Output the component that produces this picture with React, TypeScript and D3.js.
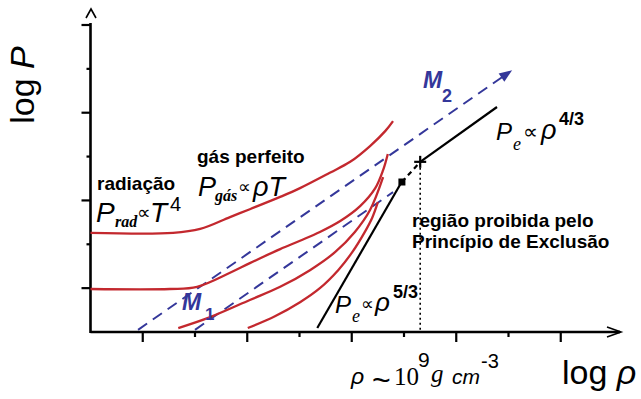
import React from 'react';
import * as d3 from 'd3';

// ---- axes (log units) ----
const xTicks = [1, 2, 3, 4, 5, 6, 7, 8, 9];
const xMajorTicks = [1, 3, 5, 7, 9];
const yTicks = [1, 2, 3, 4, 5, 6, 7];
const yMajorTicks = [1, 3, 5, 7];

// ---- red curves (log rho, log P) ----
const curve1X = [0, 1.58, 2.10, 2.67, 3.05, 3.63, 4.01, 4.58, 4.97, 5.35, 5.64, 5.79];
const curve1Y = [2.26, 2.26, 2.35, 2.62, 2.80, 3.08, 3.28, 3.63, 3.88, 4.24, 4.58, 4.81];
const curve2X = [0, 1.52, 2.04, 2.67, 3.05, 3.63, 4.01, 4.39, 4.78, 5.16, 5.45, 5.60, 5.69];
const curve2Y = [0.98, 0.98, 1.03, 1.35, 1.57, 1.89, 2.08, 2.28, 2.53, 2.87, 3.28, 3.69, 4.06];
const curve3X = [1.68, 2.29, 3.05, 3.63, 4.20, 4.68, 5.06, 5.35, 5.60];
const curve3Y = [0.09, 0.34, 0.73, 1.03, 1.41, 1.82, 2.28, 2.78, 3.53];
const curve4X = [3.01, 3.53, 4.01, 4.39, 4.74, 5.01, 5.24, 5.39, 5.50];
const curve4Y = [0.09, 0.36, 0.68, 1.00, 1.41, 1.82, 2.26, 2.60, 2.96];

// ---- blue dashed mass lines ----
const m2X = [0.91, 8.07];
const m2Y = [0.05, 5.97];
const m1X = [2.0, 5.79];
const m1Y = [0.05, 3.19];

// ---- degenerate electron pressure ----
const nonRelX = [4.34, 5.93];
const nonRelY = [0.09, 3.37];
const squarePt = [5.96, 3.42];
const plusPt = [6.31, 3.88];
const relX = [6.31, 7.78];
const relY = [3.88, 5.13];

const W = 641;
const H = 399;
const RED = '#c3282e';
const BLUE = '#34379a';
const SANS = '"Liberation Sans", Arial, "DejaVu Sans", sans-serif';
const SERIF = '"Liberation Serif", "Times New Roman", "DejaVu Serif", serif';
const SYM = '"DejaVu Sans", "Liberation Sans", sans-serif';

export default function App() {
  const x = d3.scaleLinear().domain([0, 10]).range([90.5, 613]);
  const y = d3.scaleLinear().domain([0, 7]).range([332, 25]);
  const line = d3
    .line<[number, number]>()
    .x((d) => x(d[0]))
    .y((d) => y(d[1]))
    .curve(d3.curveCatmullRom.alpha(0.5));
  const straight = d3
    .line<[number, number]>()
    .x((d) => x(d[0]))
    .y((d) => y(d[1]));
  const zip = (xs: number[], ys: number[]) => xs.map((v, i) => [v, ys[i]] as [number, number]);

  const curves = [
    zip(curve1X, curve1Y),
    zip(curve2X, curve2Y),
    zip(curve3X, curve3Y),
    zip(curve4X, curve4Y),
  ];

  // arrow head for M2
  const ax0 = x(m2X[0]), ay0 = y(m2Y[0]), ax1 = x(m2X[1]), ay1 = y(m2Y[1]);
  const ang = Math.atan2(ay1 - ay0, ax1 - ax0);
  const hl = 13, hw = 5;
  const bx = ax1 - hl * Math.cos(ang), by = ay1 - hl * Math.sin(ang);
  const head = `M${ax1},${ay1} L${bx - hw * Math.sin(ang)},${by + hw * Math.cos(ang)} L${bx + hw * Math.sin(ang)},${by - hw * Math.cos(ang)} Z`;
  const m2Line: [number, number][] = [
    [m2X[0], m2Y[0]],
    [x.invert(bx + 2 * Math.cos(ang)), y.invert(by + 2 * Math.sin(ang))],
  ];

  const x0 = x(0), yb = y(0);
  const sqx = x(squarePt[0]), sqy = y(squarePt[1]);
  const plx = x(plusPt[0]), ply = y(plusPt[1]);

  return (
    <svg
      width={W}
      height={H}
      viewBox={`0 0 ${W} ${H}`}
      style={{ position: 'absolute', left: 0, top: 0, background: '#fff' }}
    >
      <rect x={0} y={0} width={W} height={H} fill="#fff" />

      {/* axes */}
      <line x1={x0} y1={yb} x2={620} y2={yb} stroke="#000" strokeWidth={2.6} />
      <line x1={x0} y1={yb + 1} x2={x0} y2={23} stroke="#000" strokeWidth={2.6} />
      <path d={`M607,327 L621,332 L607,337`} fill="none" stroke="#000" strokeWidth={1.6} />
      <path d={`M86,18 L91,9 L96,18`} fill="none" stroke="#000" strokeWidth={1.6} />
      {xTicks.map((t) => (
        <line
          key={'xt' + t}
          x1={x(t)}
          x2={x(t)}
          y1={yb}
          y2={yb + (xMajorTicks.includes(t) ? 10 : 5)}
          stroke="#000"
          strokeWidth={2.2}
        />
      ))}
      {yTicks.map((t) => (
        <line
          key={'yt' + t}
          x1={x0}
          x2={x0 - (yMajorTicks.includes(t) ? 9 : 4)}
          y1={y(t)}
          y2={y(t)}
          stroke="#000"
          strokeWidth={2.2}
        />
      ))}

      {/* dotted vertical */}
      <line x1={plx} x2={plx} y1={ply + 6} y2={yb - 2} stroke="#000" strokeWidth={1.6} strokeDasharray="2 3" />

      {/* blue dashed lines */}
      <path d={straight(m2Line) || ''} fill="none" stroke={BLUE} strokeWidth={2} strokeDasharray="11 7" />
      <path d={head} fill={BLUE} />
      <path d={straight(zip(m1X, m1Y)) || ''} fill="none" stroke={BLUE} strokeWidth={2} strokeDasharray="11 7" />

      {/* red curves */}
      {curves.map((c, i) => (
        <path key={'c' + i} d={line(c) || ''} fill="none" stroke={RED} strokeWidth={2.3} />
      ))}

      {/* black degenerate lines */}
      <path d={straight(zip(nonRelX, nonRelY)) || ''} fill="none" stroke="#000" strokeWidth={2.2} />
      <path
        d={straight([squarePt as [number, number], plusPt as [number, number]]) || ''}
        fill="none"
        stroke="#000"
        strokeWidth={2.2}
        strokeDasharray="5 4"
      />
      <path d={straight(zip(relX, relY)) || ''} fill="none" stroke="#000" strokeWidth={2.2} />
      <rect x={sqx - 3.5} y={sqy - 3.5} width={7} height={7} fill="#000" />
      <line x1={plx - 6} x2={plx + 6} y1={ply} y2={ply} stroke="#000" strokeWidth={2.2} />
      <line x1={plx} x2={plx} y1={ply - 6} y2={ply + 6} stroke="#000" strokeWidth={2.2} />

      {/* axis titles */}
      <text
        transform="translate(34,85) rotate(-90)"
        textAnchor="middle"
        fontFamily={SANS}
        fontSize={34}
        fill="#000"
      >
        log <tspan fontStyle="italic">P</tspan>
      </text>
      <text x={562} y={384} fontFamily={SANS} fontSize={34} fill="#000">
        log <tspan fontStyle="italic">ρ</tspan>
      </text>

      {/* rho ~ 10^9 g cm^-3 */}
      <text fill="#000" fontFamily={SANS}>
        <tspan x={351} y={384} fontStyle="italic" fontSize={23}>ρ</tspan>
        <tspan x={372} y={391} fontSize={32}>~</tspan>
        <tspan x={394} y={385} fontFamily={SERIF} fontSize={25}>10</tspan>
        <tspan x={418} y={367} fontSize={21}>9</tspan>
        <tspan x={431} y={382} fontFamily={SERIF} fontStyle="italic" fontSize={25}>g</tspan>
        <tspan x={452} y={384} fontStyle="italic" fontSize={21}>cm</tspan>
        <tspan x={481} y={368} fontSize={20}>-3</tspan>
      </text>

      {/* radiation label */}
      <text x={97} y={190} fill="#000" fontFamily={SANS} fontWeight="bold" fontSize={19}>radiação</text>
      <text fill="#000" fontFamily={SANS}>
        <tspan x={96} y={222} fontStyle="italic" fontSize={28}>P</tspan>
        <tspan x={115} y={227} fontFamily={SERIF} fontStyle="italic" fontWeight="bold" fontSize={16}>rad</tspan>
        <tspan x={137} y={219} fontFamily={SYM} fontSize={19}>∝</tspan>
        <tspan x={150} y={222} fontStyle="italic" fontSize={28}>T</tspan>
        <tspan x={170} y={211} fontSize={20}>4</tspan>
      </text>

      {/* ideal gas label */}
      <text x={197} y={163} fill="#000" fontFamily={SANS} fontWeight="bold" fontSize={19}>gás perfeito</text>
      <text fill="#000" fontFamily={SANS}>
        <tspan x={198} y={196} fontStyle="italic" fontSize={27}>P</tspan>
        <tspan x={215} y={201} fontFamily={SERIF} fontStyle="italic" fontWeight="bold" fontSize={16}>gás</tspan>
        <tspan x={238} y={193} fontFamily={SYM} fontSize={18}>∝</tspan>
        <tspan x={253} y={196} fontStyle="italic" fontSize={27}>ρT</tspan>
      </text>

      {/* forbidden region */}
      <g fill="#000" fontFamily={SANS} fontWeight="bold" fontSize={19}>
        <text x={412} y={227}>região proibida pelo</text>
        <text x={412} y={248}>Princípio de Exclusão</text>
      </g>

      {/* Pe ~ rho^5/3 */}
      <text fill="#000" fontFamily={SANS}>
        <tspan x={335} y={313} fontStyle="italic" fontSize={24}>P</tspan>
        <tspan x={352} y={322} fontFamily={SERIF} fontStyle="italic" fontSize={18}>e</tspan>
        <tspan x={361} y={310} fontFamily={SYM} fontSize={18}>∝</tspan>
        <tspan x={375} y={311} fontStyle="italic" fontSize={26}>ρ</tspan>
        <tspan x={393} y={298} fontWeight="bold" fontSize={18}>5/3</tspan>
      </text>

      {/* Pe ~ rho^4/3 */}
      <text fill="#000" fontFamily={SANS}>
        <tspan x={496} y={140} fontStyle="italic" fontSize={24}>P</tspan>
        <tspan x={513} y={150} fontFamily={SERIF} fontStyle="italic" fontSize={18}>e</tspan>
        <tspan x={523} y={139} fontFamily={SYM} fontSize={21}>∝</tspan>
        <tspan x={541} y={139} fontStyle="italic" fontSize={27}>ρ</tspan>
        <tspan x={559} y={125} fontWeight="bold" fontSize={18}>4/3</tspan>
      </text>

      {/* mass labels */}
      <text fill={BLUE} fontFamily={SANS} fontWeight="bold">
        <tspan x={423} y={88} fontStyle="italic" fontSize={23}>M</tspan>
        <tspan x={442} y={102} fontSize={18}>2</tspan>
      </text>
      <text fill={BLUE} fontFamily={SANS} fontWeight="bold">
        <tspan x={182} y={310} fontStyle="italic" fontSize={23}>M</tspan>
        <tspan x={205} y={320} fontSize={17}>1</tspan>
      </text>
    </svg>
  );
}
